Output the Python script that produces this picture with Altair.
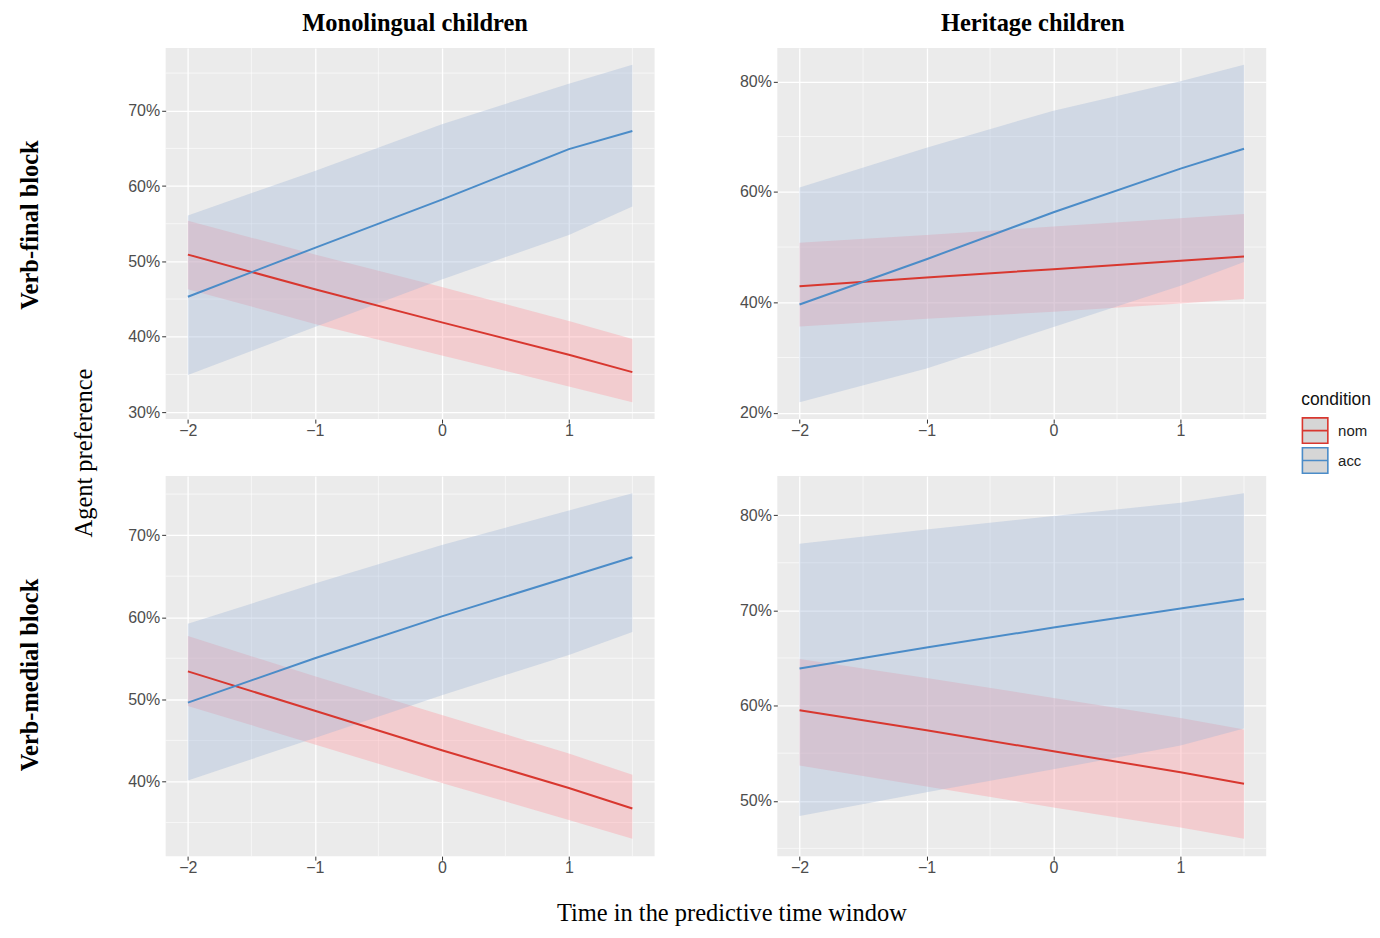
import altair as alt
import pandas as pd

# ---------------- data (percent) ----------------
time_points = [-2, -1, 0, 1, 1.5]
x_ticks = [-2, -1, 0, 1]
x_minor = [-1.5, -0.5, 0.5, 1.5]
groups = ["Monolingual children", "Heritage children"]
blocks = ["Verb-final block", "Verb-medial block"]
conditions = ["nom", "acc"]
line_colors = ["#d8372f", "#4b8cc8"]
band_colors = ["#ff929b", "#9eb5d7"]

# Monolingual children, verb-final block
mono_final_nom_fit = [50.9, 46.3, 41.9, 37.6, 35.3]
mono_final_nom_lo = [46.3, 41.7, 37.5, 33.4, 31.3]
mono_final_nom_hi = [55.4, 50.9, 46.6, 42.1, 39.7]
mono_final_acc_fit = [45.3, 51.8, 58.2, 64.9, 67.3]
mono_final_acc_lo = [34.9, 41.3, 47.6, 53.5, 57.3]
mono_final_acc_hi = [56.1, 62.0, 68.2, 73.6, 76.1]

# Heritage children, verb-final block
her_final_nom_fit = [42.9, 44.5, 46.0, 47.5, 48.3]
her_final_nom_lo = [35.6, 37.0, 38.3, 39.8, 40.6]
her_final_nom_hi = [50.8, 52.2, 53.7, 55.2, 56.0]
her_final_acc_fit = [39.6, 47.8, 56.3, 64.2, 67.8]
her_final_acc_lo = [21.9, 28.0, 35.5, 43.0, 47.3]
her_final_acc_hi = [60.8, 68.0, 74.7, 80.0, 83.0]

# Monolingual children, verb-medial block
mono_medial_nom_fit = [53.4, 48.6, 43.8, 39.2, 36.7]
mono_medial_nom_lo = [49.2, 44.5, 39.8, 35.3, 33.0]
mono_medial_nom_hi = [57.7, 52.8, 48.1, 43.4, 40.8]
mono_medial_acc_fit = [49.6, 55.0, 60.1, 64.9, 67.3]
mono_medial_acc_lo = [40.1, 45.3, 50.5, 55.4, 58.2]
mono_medial_acc_hi = [59.2, 64.1, 68.8, 73.0, 75.1]

# Heritage children, verb-medial block
her_medial_nom_fit = [59.5, 57.4, 55.2, 53.0, 51.8]
her_medial_nom_lo = [53.7, 51.5, 49.3, 47.2, 46.0]
her_medial_nom_hi = [64.9, 62.9, 60.8, 58.7, 57.5]
her_medial_acc_fit = [63.9, 66.1, 68.2, 70.2, 71.2]
her_medial_acc_lo = [48.4, 50.9, 53.3, 55.8, 57.6]
her_medial_acc_hi = [77.0, 78.5, 79.9, 81.3, 82.3]

# axis ticks (fractions)
mono_final_yticks = [0.3, 0.4, 0.5, 0.6, 0.7]
mono_final_yminor = [0.35, 0.45, 0.55, 0.65, 0.75]
her_final_yticks = [0.2, 0.4, 0.6, 0.8]
her_final_yminor = [0.3, 0.5, 0.7]
mono_medial_yticks = [0.4, 0.5, 0.6, 0.7]
mono_medial_yminor = [0.35, 0.45, 0.55, 0.65, 0.75]
her_medial_yticks = [0.5, 0.6, 0.7, 0.8]
her_medial_yminor = [0.45, 0.55, 0.65, 0.75]

panels = {
    ("Monolingual children", "Verb-final block"): {
        "nom": (mono_final_nom_fit, mono_final_nom_lo, mono_final_nom_hi),
        "acc": (mono_final_acc_fit, mono_final_acc_lo, mono_final_acc_hi),
        "ticks": mono_final_yticks, "minor": mono_final_yminor},
    ("Heritage children", "Verb-final block"): {
        "nom": (her_final_nom_fit, her_final_nom_lo, her_final_nom_hi),
        "acc": (her_final_acc_fit, her_final_acc_lo, her_final_acc_hi),
        "ticks": her_final_yticks, "minor": her_final_yminor},
    ("Monolingual children", "Verb-medial block"): {
        "nom": (mono_medial_nom_fit, mono_medial_nom_lo, mono_medial_nom_hi),
        "acc": (mono_medial_acc_fit, mono_medial_acc_lo, mono_medial_acc_hi),
        "ticks": mono_medial_yticks, "minor": mono_medial_yminor},
    ("Heritage children", "Verb-medial block"): {
        "nom": (her_medial_nom_fit, her_medial_nom_lo, her_medial_nom_hi),
        "acc": (her_medial_acc_fit, her_medial_acc_lo, her_medial_acc_hi),
        "ticks": her_medial_yticks, "minor": her_medial_yminor},
}

SANS = "Liberation Sans"
SERIF = "Liberation Serif"
W = 490
H_TOP, H_BOTTOM = 372, 381
BIG = 24.5

x_scale = alt.Scale(domain=[-2.175, 1.675], nice=False, zero=False)
x_axis = alt.Axis(values=x_ticks, format="d", title=None, grid=True, gridColor="white",
                  gridWidth=1.3, domain=False, tickColor="#333333", tickSize=4,
                  labelColor="#4d4d4d", labelFont=SANS, labelFontSize=16, labelPadding=-1)

color_scale = alt.Scale(domain=conditions, range=line_colors)
# band fill scale listed in reverse order (kept separate from the line legend)
fill_scale = alt.Scale(domain=conditions[::-1], range=band_colors[::-1])

legend = alt.Legend(title="condition", orient="none", legendX=1138, legendY=344,
                    symbolType="M-1,-1H1V1H-1Z M-1,0H1", symbolFillColor="#d6d6d6",
                    symbolSize=650, symbolStrokeWidth=1.6, titleFont=SANS,
                    titleFontSize=17.5, titleFontWeight="normal", titleColor="#111111",
                    labelFont=SANS, labelFontSize=15, labelColor="#222222",
                    rowPadding=-3, titlePadding=8, labelOffset=9)


def panel(group, block, height, col_title, col_dx, row_title, row_y, ylabel_text):
    spec = panels[(group, block)]
    rows = []
    for cond in conditions:
        fit, lo, hi = spec[cond]
        for i, t in enumerate(time_points):
            rows.append({"condition": cond, "time": t, "fit": fit[i] / 100,
                         "lo": lo[i] / 100, "hi": hi[i] / 100})
    d = pd.DataFrame(rows)
    lo_all, hi_all = d["lo"].min(), d["hi"].max()
    pad = (hi_all - lo_all) * 0.05
    y_scale = alt.Scale(domain=[lo_all - pad, hi_all + pad], nice=False, zero=False)
    axis_kw = dict(values=spec["ticks"], format=".0%", grid=True, gridColor="white",
                   gridWidth=1.3, domain=False, tickColor="#333333", tickSize=4,
                   labelColor="#4d4d4d", labelFont=SANS, labelFontSize=16, labelPadding=2)
    if row_title:
        axis_kw.update(title=row_title, titleFont=SERIF, titleFontSize=BIG,
                       titleFontWeight="bold", titleColor="black", titleAngle=270,
                       titleX=-135, titleY=row_y, titleAlign="center",
                       titleBaseline="middle")
    else:
        axis_kw.update(title=None)
    y_axis = alt.Axis(**axis_kw)

    minor_y = alt.Chart(pd.DataFrame({"v": spec["minor"]})).mark_rule(
        color="white", strokeWidth=0.6).encode(
        y=alt.Y("v:Q", scale=y_scale, axis=y_axis))
    minor_x = alt.Chart(pd.DataFrame({"v": x_minor})).mark_rule(
        color="white", strokeWidth=0.6).encode(
        x=alt.X("v:Q", scale=x_scale, axis=x_axis))

    base = alt.Chart(d)
    band = base.mark_area(opacity=0.35).encode(
        x=alt.X("time:Q", scale=x_scale, axis=x_axis),
        y=alt.Y("lo:Q", scale=y_scale, axis=y_axis, stack=None),
        y2="hi:Q",
        fill=alt.Fill("condition:N", scale=fill_scale, legend=None),
    )
    line = base.mark_line(strokeWidth=2).encode(
        x=alt.X("time:Q", scale=x_scale, axis=x_axis),
        y=alt.Y("fit:Q", scale=y_scale, axis=y_axis),
        color=alt.Color("condition:N", scale=color_scale, legend=legend),
    )
    layers = [minor_y, minor_x, band, line]
    if ylabel_text:
        txt = alt.Chart(pd.DataFrame({"label": [ylabel_text]})).mark_text(
            angle=270, font=SERIF, fontSize=BIG, color="black").encode(
            text="label:N", x=alt.value(-81), y=alt.value(height + 34))
        layers.append(txt)
    ch = alt.layer(*layers).properties(width=W, height=height)
    if col_title:
        ch = ch.properties(title=alt.TitleParams(col_title, font=SERIF, fontSize=BIG,
                                                 fontWeight="bold", color="black",
                                                 anchor="middle", offset=11, dx=col_dx))
    return ch


p11 = panel("Monolingual children", "Verb-final block", H_TOP, "Monolingual children", 5,
            "Verb-final block", 177, "Agent preference")
p12 = panel("Heritage children", "Verb-final block", H_TOP, "Heritage children", 11,
            None, 0, None)
p21 = panel("Monolingual children", "Verb-medial block", H_BOTTOM, None, 0,
            "Verb-medial block", 199, None)
p22 = panel("Heritage children", "Verb-medial block", H_BOTTOM, None, 0, None, 0, None)

chart = alt.concat(p11, p12, p21, p22, columns=2, spacing=alt.RowColnumber(row=57, column=123),
                   bounds="flush").resolve_scale(
    color="shared", fill="shared").properties(
    title=alt.TitleParams("Time in the predictive time window", orient="bottom",
                          font=SERIF, fontSize=BIG, fontWeight="normal", color="black",
                          anchor="middle", offset=27, dx=37),
    padding={"left": 10, "top": 2, "right": 0, "bottom": 0},
).configure_view(fill="#EBEBEB", stroke=None)

chart.save("out.html", embed_options={"renderer": "svg", "actions": False})
